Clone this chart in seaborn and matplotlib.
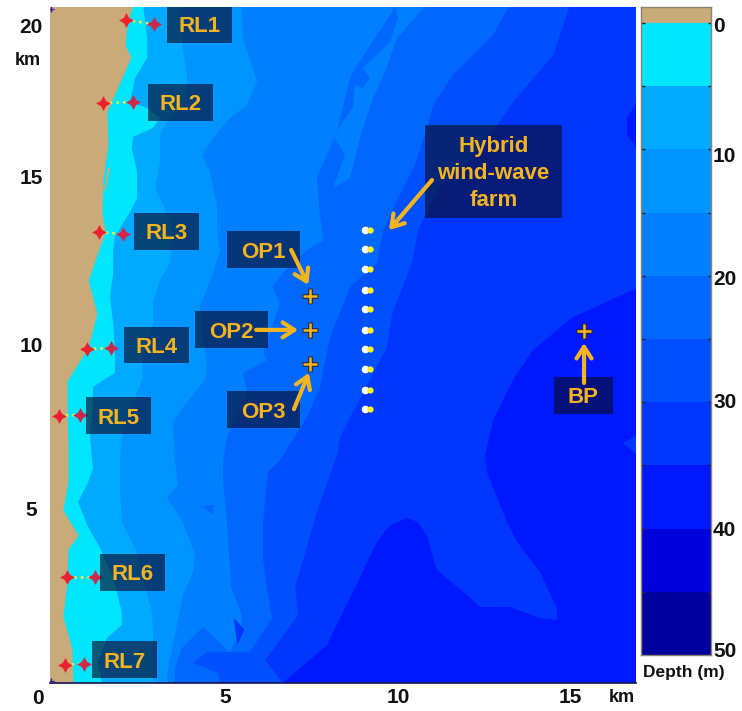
import matplotlib
matplotlib.use("Agg")
import matplotlib.pyplot as plt
from matplotlib.patches import Rectangle
import pandas as pd
import seaborn as sns

sns.set_theme(style="white")
plt.rcParams["font.family"] = ["Liberation Sans", "DejaVu Sans"]

# ---- depth contours (km east, km north) ----
coast_x = [2.39,2.22,2.16,2.33,2.07,1.64,1.67,1.53,1.50,1.59,1.44,1.10,1.35,1.10,0.49,0.49,0.52,0.52,0.37,0.81,0.52,0.49,0.37,0.63,0.66]
coast_y = [20.2,19.58,18.99,18.63,18.01,16.99,16.01,15.0,13.99,13.42,13.0,11.99,11.01,10.0,8.99,8.01,6.99,6.01,5.15,4.40,3.99,3.01,1.99,1.01,0]
lagoon_x = [1.67,1.73,1.61,1.56]
lagoon_y = [15.33,15.33,14.67,14.67]

c5_x = [2.68,2.80,2.80,2.45,2.31,2.80,3.17,2.97,2.39,2.36,2.51,2.51,2.31,2.07,1.87,1.82,1.82,1.73,1.82,1.87,1.87,1.24,1.21,1.15,1.24,1.10,0.81,1.07,1.44,1.82,2.07,2.07,1.64,1.38,1.50]
c5_y = [20.2,19.2,18.6,18.0,17.29,17.11,16.82,16.52,16.25,15.92,15.21,14.43,14.02,13.63,13.27,12.89,12.2,11.49,10.71,9.91,9.23,8.81,7.92,7.32,6.4,5.98,5.39,4.70,4.02,3.13,2.11,1.73,1.34,0.63,0]

c10_x = [3.75,3.83,3.95,3.95,3.37,3.17,3.17,3.03,3.26,3.54,3.46,3.17,2.97,2.97,2.65,2.68,2.39,2.07,2.02,2.02,2.07,2.54,2.80,2.94,2.97,2.97]
c10_y = [20.2,18.9,18.1,17.35,16.7,16.31,15.51,14.73,14.23,13.48,12.5,11.99,11.31,10.71,9.7,9.11,8.33,7.32,6.64,5.8,4.79,3.81,2.62,2.11,1.52,0]

c15_x = [5.53,5.56,5.97,5.68,5.19,4.70,4.38,4.61,4.81,4.81,4.90,4.70,4.32,4.41,4.52,4.47,3.83,3.54,3.60,3.69,3.37,3.83,4.18,4.12,3.83,3.66,3.40,3.37]
c15_y = [20.2,19.2,17.89,17.2,16.82,16.22,15.71,15.21,14.23,13.48,12.89,12.2,11.19,10.21,9.52,9.02,8.21,7.74,6.64,5.89,5.51,4.79,3.81,3.3,2.62,1.73,0.45,0]

c20_x = [9.94,9.86,8.85,8.65,8.27,7.69,7.78,7.87,7.41,6.71,6.40,6.63,6.14,6.25,5.56,5.68,5.56,5.10,4.99,4.99,5.10,5.19,5.22,5.53,5.48,5.19,4.41,3.80,3.60,3.60]
c20_y = [20.2,19.97,18.39,18.01,16.4,15.03,13.93,13.18,12.89,12.2,11.79,11.31,9.82,9.61,9.23,8.63,8.33,7.32,6.64,5.98,4.79,3.36,2.83,2.02,1.52,0.92,1.67,1.04,0.45,0]

island_x = [9.94,10.86,10.0,9.65,9.31,8.93,8.65,8.16,8.5,8.21,8.36,8.73,8.79,9.02,9.22,9.02,9.80,10.03]
island_y = [20.2,20.2,19.2,18.18,17.41,16.22,15.03,14.73,15.71,16.22,16.61,17.11,17.8,17.71,18.01,18.3,19.08,19.79]

pocket_x = [4.24,4.70,4.70,4.47]
pocket_y = [5.24,5.30,5.00,5.21]

c25_x = [13.26,12.77,11.61,11.04,10.89,10.52,9.94,9.6,9.42,8.65,8.56,8.07,7.78,7.41,6.63,6.28,6.14,6.14,6.25,6.40,5.76,4.52,4.12,4.84,4.90]
c25_y = [20.2,19.29,18.1,17.2,16.61,15.42,14.23,13.48,12.5,11.79,11.55,10.3,8.81,7.92,6.64,6.28,4.79,3.66,2.83,1.93,0.92,0.92,0.6,0.3,0]

c30_x = [14.99,14.50,13.34,12.88,12.10,11.24,10.95,10.61,10.43,9.86,9.71,8.65,8.36,8.27,7.69,7.06,7.15,6.63,6.20,6.71]
c30_y = [20.2,18.69,17.29,16.61,15.57,14.76,14.23,13.48,12.5,11.01,10.0,7.92,7.32,6.79,5.09,2.83,2.02,1.28,0.68,0]

diamond_x = [5.30,5.60,5.40,5.34]
diamond_y = [1.93,1.58,1.13,1.60]

c35_x = [17.0,16.8,15.07,13.92,13.34,12.77,12.54,12.59,13.17,13.46,14.12,14.61,14.61,14.12,13.26,12.39,12.02,11.15,11.04,10.89,10.61,10.29,9.8,9.42,8.93,8.36,7.98,6.71]
c35_y = [11.79,11.7,10.89,9.91,9.02,7.83,6.79,6.28,4.79,4.2,3.3,2.23,1.88,1.93,2.26,2.26,2.62,3.36,3.72,4.32,4.79,4.91,4.7,4.2,3.13,1.93,1.13,0]

blob_x = [17.0,16.63,16.63,17.0]
blob_y = [17.44,16.82,16.31,15.8]
patch_x = [17.0,16.51,17.0]
patch_y = [7.44,7.14,6.73]

# ---- points ----
rl_names = ["RL1","RL2","RL3","RL4","RL5","RL6","RL7"]
rl_x0 = [2.19,1.53,1.41,1.07,0.26,0.49,0.43]
rl_y0 = [19.73,17.26,13.42,9.94,7.95,3.15,0.54]
rl_x1 = [2.99,2.39,2.10,1.76,0.86,1.30,0.98]
rl_y1 = [19.61,17.29,13.36,9.97,7.98,3.15,0.57]

turbine_x = [9.14]*10
turbine_y = [13.48,12.92,12.32,11.70,11.13,10.51,9.94,9.35,8.72,8.15]

probe_x = [7.49,7.49,7.49,15.39]
probe_y = [11.52,10.51,9.49,10.48]

corner_x = [0.04,0.04]
corner_y = [0.06,20.05]

# ---- labelled boxes: name, left, bottom, width, height in km ----
box_names = ["RL1","RL2","RL3","RL4","RL5","RL6","RL7","OP1","OP2","OP3","Hybrid\nwind-wave\nfarm","BP"]
box_left = [3.37,2.82,2.43,2.14,1.04,1.44,1.21,5.10,4.18,5.10,10.81,14.52]
box_bottom = [19.05,16.73,12.89,9.52,7.41,2.74,0.15,12.35,9.97,7.59,13.84,8.01]
box_width = [1.87]*7 + [2.10]*3 + [3.95,1.70]
box_height = [1.09]*10 + [2.77,1.10]

arrow_from_x = [6.95,5.94,7.03,15.39,11.01]
arrow_from_y = [12.89,10.51,8.15,8.93,14.97]
arrow_to_x = [7.44,7.15,7.46,15.39,9.77]
arrow_to_y = [11.85,10.51,9.23,10.12,13.48]

xtick_pos = [5.04,10.03,14.99]
xtick_lab = ["5","10","15"]
ytick_pos = [5.18,10.06,15.06,19.58]
ytick_lab = ["5","10","15","20"]

# ---- colour bar ----
band_edges = [-1.27,0,5,10,15,20,25,30,35,40,45,50]
cbar_tick_pos = [0.1,10.4,20.1,29.9,40.0,49.6]
cbar_tick_lab = ["0","10","20","30","40","50"]
cbar_marks = [0,5,10,15,20,25,30,35,40,45]

land = "#C8AB78"
band_rgb = ["#00E6FF","#00AAFF","#0094FF","#0080FF","#0068FF","#0050FF","#0036FF","#0018FF","#0000DC","#0000A0"]
palette = sns.color_palette(band_rgb)
gold = "#F5B41E"

XMAX, YMAX = 586/34.7, 676/33.6

fig = plt.figure(figsize=(7.42,7.11), dpi=100, facecolor="white")
ax = fig.add_axes([50/742, 28/711, 586/742, 676/711])

def shade(xs, ys, col):
    ax.fill(xs + [XMAX+1, XMAX+1], ys + [0, ys[0]], color=col, lw=0)

ax.set_facecolor(palette[0])
shade(c5_x, c5_y, palette[1])
shade(c10_x, c10_y, palette[2])
shade(c15_x, c15_y, palette[3])
shade(c20_x, c20_y, palette[4])
ax.fill(island_x, island_y, color=palette[3], lw=0)
ax.fill(pocket_x, pocket_y, color=palette[4], lw=0)
shade(c25_x, c25_y, palette[5])
shade(c30_x, c30_y, palette[6])
ax.fill(diamond_x, diamond_y, color=palette[6], lw=0)
shade(c35_x, c35_y, palette[7])
ax.fill(blob_x, blob_y, color=palette[7], lw=0)
ax.fill(patch_x, patch_y, color=palette[6], lw=0)
ax.fill_betweenx(coast_y, -1, coast_x, color=land, lw=0)
ax.fill(lagoon_x, lagoon_y, color=land, lw=0)

sns.scatterplot(x=corner_x, y=corner_y, ax=ax, marker="+", s=16, color="#4020A0", linewidth=1, legend=False, zorder=3)

# reference lines (dotted) and their end points
for i, name in enumerate(rl_names):
    seg = pd.DataFrame({"x":[rl_x0[i], rl_x1[i]], "y":[rl_y0[i], rl_y1[i]]})
    sns.lineplot(data=seg, x="x", y="y", ax=ax, sort=False, estimator=None, color="#DDF050",
                 linewidth=1.9, linestyle=(0,(1,1.5)), legend=False, zorder=3)
sns.scatterplot(x=rl_x0, y=rl_y0, ax=ax, marker=(4,1,0), s=115, color="#EE2030", linewidth=0, legend=False, zorder=4)
sns.scatterplot(x=rl_x1, y=rl_y1, ax=ax, marker=(4,1,0), s=115, color="#D02848", linewidth=0, legend=False, zorder=4)

# boxes and labels
for n, l, b, w, h in zip(box_names, box_left, box_bottom, box_width, box_height):
    ax.add_patch(Rectangle((l,b), w, h, facecolor="#0A0E2F", alpha=0.65, lw=0, zorder=5))
    ax.text(l+w/2, b+h/2-0.07, n, color=gold, fontsize=16, fontweight="bold", ha="center", va="center",
            linespacing=1.38, zorder=7)

# turbines
sns.scatterplot(x=[v-0.05 for v in turbine_x], y=turbine_y, ax=ax, marker="o", s=30, color="white", linewidth=0, legend=False, zorder=6)
sns.scatterplot(x=[v+0.07 for v in turbine_x], y=turbine_y, ax=ax, marker="o", s=20, color="#FFF020", linewidth=0, legend=False, zorder=6)

# observation points
sns.scatterplot(x=probe_x, y=probe_y, ax=ax, marker="+", s=135, color="#2A2A3A", linewidth=3.4, legend=False, zorder=8)
sns.scatterplot(x=probe_x, y=probe_y, ax=ax, marker="+", s=100, color=gold, linewidth=1.8, legend=False, zorder=8)

# arrows
for x0, y0, x1, y1 in zip(arrow_from_x, arrow_from_y, arrow_to_x, arrow_to_y):
    ax.annotate("", xy=(x1,y1), xytext=(x0,y0), zorder=9,
                arrowprops=dict(arrowstyle="->,head_length=0.7,head_width=0.45", color=gold, lw=3,
                                shrinkA=0, shrinkB=0))

ax.set_xlim(0, XMAX)
ax.set_ylim(0, YMAX)
ax.set_xlabel("")
ax.set_ylabel("")
for s in ["top","left","right"]:
    ax.spines[s].set_visible(False)
ax.spines["bottom"].set_color("#141450")
ax.spines["bottom"].set_linewidth(1.2)
ax.set_xticks(xtick_pos, xtick_lab, fontsize=15, fontweight="bold", color="#111111")
ax.set_yticks(ytick_pos, ytick_lab, fontsize=15, fontweight="bold", color="#111111")
ax.tick_params(axis="x", length=0, pad=3.5)
ax.tick_params(axis="y", length=0, pad=13.5)
for t in ax.get_yticklabels():
    t.set_ha("center")
ax.text(-0.35, -0.45, "0", fontsize=15, fontweight="bold", color="#111111", ha="center", va="center", clip_on=False)
ax.text(16.47, -0.42, "km", fontsize=13, fontweight="bold", color="#111111", ha="center", va="center", clip_on=False)
ax.text(-0.63, 18.53, "km", fontsize=13, fontweight="bold", color="#111111", ha="center", va="center", clip_on=False)

# colour bar
cax = fig.add_axes([641/742, (711-655)/711, 70/742, 648/711])
cmap_cols = [land] + list(palette)
for i, col in enumerate(cmap_cols):
    cax.axhspan(band_edges[i], band_edges[i+1], color=col, lw=0)
cax.set_ylim(50, band_edges[0])
cax.set_xlim(0, 1)
cax.set_xticks([])
cax.yaxis.tick_right()
cax.set_yticks(cbar_tick_pos, cbar_tick_lab, fontsize=15, fontweight="bold", color="#111111")
cax.tick_params(axis="y", which="major", length=0, pad=1.5)
for x_side in [(0, 0.05), (0.95, 1)]:
    cax.hlines(cbar_marks, x_side[0], x_side[1], color="#222222", lw=1)
for s in cax.spines.values():
    s.set_color("#8C8470")
    s.set_linewidth(1.0)
fig.text(684/742, 1-672/711, "Depth (m)", fontsize=12.5, fontweight="bold", color="#111111", ha="center", va="center")

fig.savefig("out.png", dpi=100, facecolor="white")
